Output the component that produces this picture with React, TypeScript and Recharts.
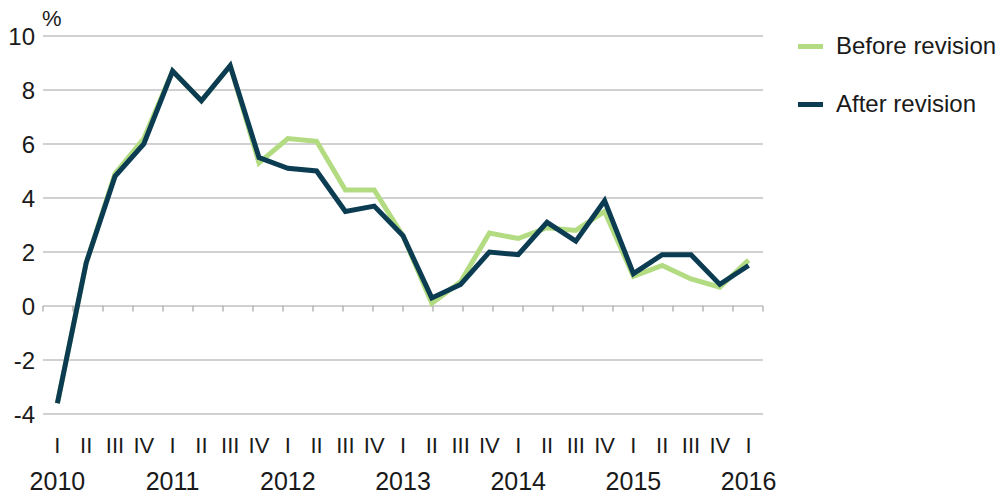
import React from "react";
import {
  LineChart,
  Line,
  XAxis,
  YAxis,
  CartesianGrid,
  ReferenceLine,
} from "recharts";

const quarters = [
  "I", "II", "III", "IV",
  "I", "II", "III", "IV",
  "I", "II", "III", "IV",
  "I", "II", "III", "IV",
  "I", "II", "III", "IV",
  "I", "II", "III", "IV",
  "I",
];
const years = [
  "2010", "", "", "",
  "2011", "", "", "",
  "2012", "", "", "",
  "2013", "", "", "",
  "2014", "", "", "",
  "2015", "", "", "",
  "2016",
];
const beforeRevision = [
  -3.6, 1.6, 4.9, 6.2,
  8.7, 7.6, 8.9, 5.3,
  6.2, 6.1, 4.3, 4.3,
  2.6, 0.1, 0.9, 2.7,
  2.5, 2.9, 2.8, 3.5,
  1.1, 1.5, 1.0, 0.7,
  1.7,
];
const afterRevision = [
  -3.6, 1.6, 4.8, 6.0,
  8.7, 7.6, 8.9, 5.5,
  5.1, 5.0, 3.5, 3.7,
  2.6, 0.3, 0.8, 2.0,
  1.9, 3.1, 2.4, 3.9,
  1.2, 1.9, 1.9, 0.8,
  1.5,
];
const yTicks = [-4, -2, 0, 2, 4, 6, 8, 10];
const seriesNames = ["Before revision", "After revision"];

const GREEN = "#b3dc82";
const NAVY = "#0b3c52";
const FONT = "'Liberation Sans', Arial, sans-serif";
const TEXT = "#1a1a1a";

const data = quarters.map((q, i) => ({
  key: `${years[i] || ""}-${i}`,
  before: beforeRevision[i],
  after: afterRevision[i],
}));

const boundaries = Array.from({ length: quarters.length + 1 }, (_, i) => i);

const XTick = (props: any) => {
  const { x, y, payload } = props;
  const i = payload.index;
  return (
    <g>
      <text
        x={x}
        y={y}
        dy={37}
        textAnchor="middle"
        fontSize={22}
        fontFamily={FONT}
        fill={TEXT}
      >
        {quarters[i]}
      </text>
      {years[i] ? (
        <text
          x={x}
          y={y}
          dy={74}
          textAnchor="middle"
          fontSize={25}
          fontFamily={FONT}
          fill={TEXT}
        >
          {years[i]}
        </text>
      ) : null}
    </g>
  );
};

const LegendBox = () => {
  const colors = [GREEN, NAVY];
  return (
    <div
      style={{
        position: "absolute",
        left: 798,
        top: 32,
        fontFamily: FONT,
        fontSize: 24,
        color: TEXT,
      }}
    >
      {seriesNames.map((label, idx) => (
        <div
          key={label}
          style={{
            display: "flex",
            alignItems: "center",
            height: 28,
            marginBottom: idx === 0 ? 30 : 0,
            whiteSpace: "nowrap",
          }}
        >
          <span
            style={{
              display: "inline-block",
              width: 25,
              height: 5,
              background: colors[idx],
              marginRight: 13,
            }}
          />
          <span>{label}</span>
        </div>
      ))}
    </div>
  );
};

export default function App() {
  return (
    <div
      style={{
        position: "absolute",
        left: 0,
        top: 0,
        width: 1008,
        height: 498,
        background: "#fff",
        overflow: "hidden",
      }}
    >
      <LineChart
        width={1008}
        height={498}
        data={data}
        margin={{ top: 36, right: 245, bottom: 14, left: 0 }}
      >
        <CartesianGrid
          xAxisId="cat"
          vertical={false}
          stroke="#a3a3a3"
          strokeWidth={1.2}
        />
        <XAxis
          xAxisId="cat"
          dataKey="key"
          type="category"
          interval={0}
          axisLine={false}
          tickLine={false}
          tickSize={0}
          tick={<XTick />}
          padding={{ left: 14.4, right: 14.4 }}
          height={70}
        />
        <XAxis xAxisId="num" type="number" domain={[0, 25]} hide />
        <YAxis
          domain={[-4, 10]}
          ticks={yTicks}
          interval={0}
          axisLine={false}
          tickLine={false}
          tickSize={0}
          tickMargin={8}
          width={43}
          tick={{ fontSize: 24, fontFamily: FONT, fill: TEXT }}
        />
        {boundaries.map((b) => (
          <ReferenceLine
            key={b}
            xAxisId="num"
            segment={[
              { x: b, y: 0 },
              { x: b, y: -0.2 },
            ]}
            stroke="#a3a3a3"
            strokeWidth={1.2}
          />
        ))}
        <Line
          xAxisId="cat"
          dataKey="before"
          name={seriesNames[0]}
          stroke={GREEN}
          strokeWidth={5}
          dot={false}
          activeDot={false}
          isAnimationActive={false}
          strokeLinejoin="miter"
        />
        <Line
          xAxisId="cat"
          dataKey="after"
          name={seriesNames[1]}
          stroke={NAVY}
          strokeWidth={5}
          dot={false}
          activeDot={false}
          isAnimationActive={false}
          strokeLinejoin="miter"
        />
      </LineChart>
      <div
        style={{
          position: "absolute",
          left: 42,
          top: 6,
          fontFamily: FONT,
          fontSize: 22,
          color: TEXT,
        }}
      >
        %
      </div>
      <LegendBox />
    </div>
  );
}
